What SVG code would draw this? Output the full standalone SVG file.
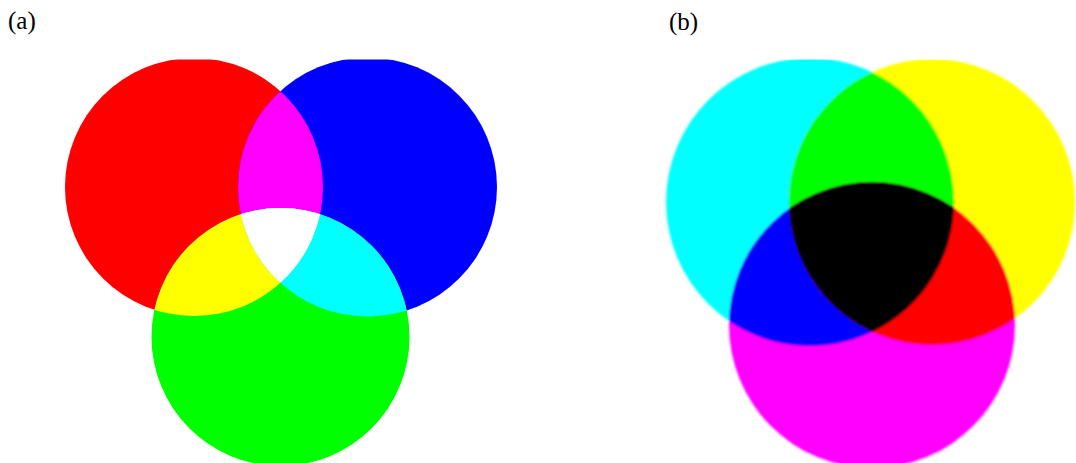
<svg xmlns="http://www.w3.org/2000/svg" width="1076" height="463" viewBox="0 0 1076 463">
<style>
.lbl{font-family:"Liberation Serif","Times New Roman",serif;font-size:25px;fill:#000}
</style>
<defs>
<clipPath id="cR"><circle cx="194" cy="187" r="129"/></clipPath>
<clipPath id="cB"><circle cx="367.5" cy="187" r="129.5"/></clipPath>
<clipPath id="cRB" clip-path="url(#cR)"><circle cx="367.5" cy="187" r="129.5"/></clipPath>
<clipPath id="cC"><circle cx="810" cy="202" r="144"/></clipPath>
<clipPath id="cY"><circle cx="932" cy="202" r="143"/></clipPath>
<clipPath id="cCY" clip-path="url(#cC)"><circle cx="932" cy="202" r="143"/></clipPath>
<clipPath id="top"><rect x="0" y="59.5" width="1076" height="404"/></clipPath>
<filter id="soft" x="-5%" y="-5%" width="110%" height="110%"><feGaussianBlur stdDeviation="1"/></filter>
</defs>
<rect width="1076" height="463" fill="#fff"/>
<g id="label-a"><text class="lbl" x="8" y="29">(a)</text></g>
<g id="label-b"><text class="lbl" x="669" y="30">(b)</text></g>
<g id="additive" clip-path="url(#top)">
<circle id="red" cx="194" cy="187" r="129" fill="#f00"/>
<circle id="blue" cx="367.5" cy="187" r="129.5" fill="#00f"/>
<circle id="green" cx="280.5" cy="337" r="129" fill="#0f0"/>
<circle cx="367.5" cy="187" r="129.5" fill="#f0f" clip-path="url(#cR)"/>
<circle cx="280.5" cy="337" r="129" fill="#ff0" clip-path="url(#cR)"/>
<circle cx="280.5" cy="337" r="129" fill="#0ff" clip-path="url(#cB)"/>
<circle cx="280.5" cy="337" r="129" fill="#fff" clip-path="url(#cRB)"/>
</g>
<g clip-path="url(#top)">
<g id="subtractive" filter="url(#soft)">
<circle id="cyan" cx="810" cy="202" r="144" fill="#0ff"/>
<circle id="yellow" cx="932" cy="202" r="143" fill="#ff0"/>
<circle id="magenta" cx="872" cy="325" r="143" fill="#f0f"/>
<circle cx="932" cy="202" r="143" fill="#0f0" clip-path="url(#cC)"/>
<circle cx="872" cy="325" r="143" fill="#00f" clip-path="url(#cC)"/>
<circle cx="872" cy="325" r="143" fill="#f00" clip-path="url(#cY)"/>
<circle cx="872" cy="325" r="143" fill="#000" clip-path="url(#cCY)"/>
</g>
</g>
</svg>
